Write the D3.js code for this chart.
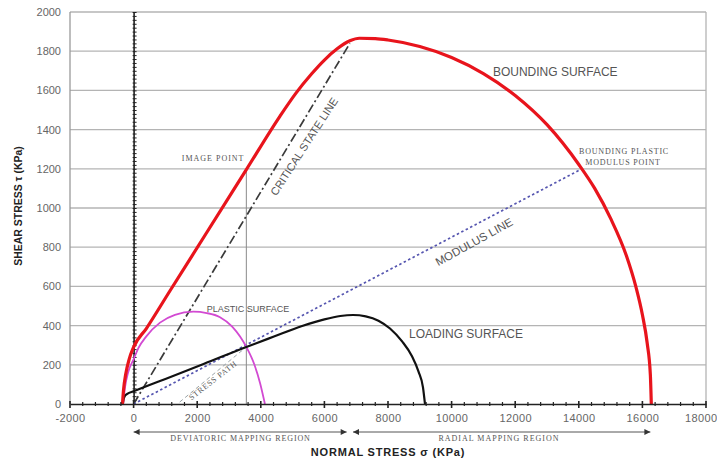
<!DOCTYPE html>
<html>
<head>
<meta charset="utf-8">
<script src="https://cdn.jsdelivr.net/npm/d3@7"></script>
<style>
  html, body { margin: 0; padding: 0; background: #fff; }
  svg { display: block; }
  .tick text { font-family: "Liberation Sans", Arial, sans-serif; fill: #666; }
  .sans-note { font-family: "Liberation Sans", Arial, sans-serif; fill: #555; }
  .serif-note { font-family: "Liberation Serif", "Times New Roman", serif; fill: #555; }
  .axis-title { font-family: "Liberation Sans", Arial, sans-serif; font-weight: bold; fill: #222; }
</style>
</head>
<body>
<svg id="chart" width="717" height="461"></svg>
<script>
// Axis ticks (kPa)
const xTicks = [-2000, 0, 2000, 4000, 6000, 8000, 10000, 12000, 14000, 16000, 18000];
const yTicks = [0, 200, 400, 600, 800, 1000, 1200, 1400, 1600, 1800, 2000];

// Surfaces and lines as (normal stress σ, shear stress τ) pairs, kPa
const boundingSurface = [
  [-350, 0], [-315, 75], [-250, 150], [-140, 228], [0, 290], [400, 385],
  [1150, 579], [2300, 875], [3545, 1196], [4600, 1468], [5100, 1585],
  [5600, 1685], [6000, 1755], [6400, 1812], [6800, 1853], [7100, 1866],
  [7600, 1864], [8000, 1857], [9000, 1824], [10000, 1768], [11000, 1686],
  [12000, 1574], [13000, 1425], [14000, 1222], [14500, 1100], [15000, 947],
  [15500, 755], [15800, 595], [16000, 455], [16150, 311], [16250, 150],
  [16280, 0]
];
const loadingSurface = [
  [-340, 0], [-315, 25], [-270, 42], [-200, 52], [0, 65], [500, 97],
  [1000, 128], [2200, 204], [3545, 291], [4393, 343], [5300, 398],
  [6000, 432], [6500, 449], [6900, 454], [7300, 447], [7700, 425],
  [8063, 385], [8450, 318], [8750, 245], [8960, 165], [9100, 85], [9163, 0]
];
const plasticSurface = [
  [-330, 0], [-270, 85], [-170, 162], [0, 228], [150, 285], [400, 345],
  [830, 415], [1300, 455], [1877, 471], [2300, 464], [2717, 443],
  [3100, 395], [3545, 291], [3800, 200], [3980, 105], [4130, 0]
];
const criticalStateLine = [[0, 0], [6800, 1840]];
const modulusLine = [[0, 0], [14040, 1195]];
const imagePointLine = [[3545, 0], [3545, 1196]];
const stressPath = [[1450, 10], [3545, 291]];
const deviatoricRegion = [0, 6700];
const radialRegion = [6900, 16250];

const svg = d3.select("#chart");
const x = d3.scaleLinear().domain([-2000, 18000]).range([70, 706]);
const y = d3.scaleLinear().domain([0, 2000]).range([404, 12]);
const plain = d => String(d);

const defs = svg.append("defs");
defs.append("marker").attr("id", "head").attr("viewBox", "0 0 10 10")
  .attr("refX", 10).attr("refY", 5).attr("markerWidth", 9).attr("markerHeight", 6)
  .attr("orient", "auto-start-reverse").attr("markerUnits", "userSpaceOnUse")
  .append("path").attr("d", "M0,0L10,5L0,10Z").attr("fill", "#333");

// horizontal gridlines
svg.append("g").selectAll("line").data(yTicks.filter(v => v > 0)).join("line")
  .attr("x1", x(-2000)).attr("x2", x(18000))
  .attr("y1", d => y(d)).attr("y2", d => y(d))
  .attr("stroke", "#b4b4b4").attr("stroke-width", 1.3);

// plot frame sides
svg.append("line").attr("x1", x(-2000)).attr("x2", x(-2000)).attr("y1", y(0)).attr("y2", y(2000))
  .attr("stroke", "#9a9a9a").attr("stroke-width", 1.3);
svg.append("line").attr("x1", x(18000)).attr("x2", x(18000)).attr("y1", y(0)).attr("y2", y(2000))
  .attr("stroke", "#b4b4b4").attr("stroke-width", 1.3);

// y tick labels
const yAxis = svg.append("g").attr("transform", `translate(${x(-2000)},0)`)
  .call(d3.axisLeft(y).tickValues(yTicks).tickSize(0).tickPadding(9).tickFormat(plain));
yAxis.select(".domain").remove();
yAxis.selectAll("text").attr("font-size", 11);

// shear axis through σ = 0 with fine ticks
const zeroAxis = svg.append("g").attr("transform", `translate(${x(0)},0)`)
  .call(d3.axisRight(y).tickValues(d3.range(0, 2001, 20)).tickSize(3).tickSizeOuter(0).tickFormat(""));
zeroAxis.select(".domain").attr("stroke", "#222").attr("stroke-width", 1.6);
zeroAxis.selectAll(".tick line").attr("stroke", "#222").attr("x1", -1);

const straight = d3.line().x(d => x(d[0])).y(d => y(d[1]));
const smooth = d3.line().x(d => x(d[0])).y(d => y(d[1])).curve(d3.curveMonotoneX);

// image point vertical
svg.append("path").attr("d", straight(imagePointLine))
  .attr("fill", "none").attr("stroke", "#8a8a8a").attr("stroke-width", 1);

// critical state line
svg.append("path").attr("d", straight(criticalStateLine))
  .attr("fill", "none").attr("stroke", "#3a3a3a").attr("stroke-width", 1.7)
  .attr("stroke-dasharray", "9,3,2,3");

// modulus line
svg.append("path").attr("d", straight(modulusLine))
  .attr("fill", "none").attr("stroke", "#5656b0").attr("stroke-width", 1.7)
  .attr("stroke-dasharray", "2.5,2.5");

// stress path
svg.append("path").attr("d", straight(stressPath))
  .attr("fill", "none").attr("stroke", "#9aa4a8").attr("stroke-width", 1)
  .attr("stroke-dasharray", "4,3");

// plastic surface
svg.append("path").attr("d", smooth(plasticSurface))
  .attr("fill", "none").attr("stroke", "#d24ad2").attr("stroke-width", 1.8);

// loading surface
svg.append("path").attr("d", smooth(loadingSurface))
  .attr("fill", "none").attr("stroke", "#111").attr("stroke-width", 2.2);

// bounding surface
svg.append("path").attr("d", smooth(boundingSurface))
  .attr("fill", "none").attr("stroke", "#e8141c").attr("stroke-width", 3.2);

// normal stress axis with major and minor ticks
const xAxis = svg.append("g").attr("transform", `translate(0,${y(0)})`)
  .call(d3.axisBottom(x).tickValues(xTicks).tickSize(0).tickPadding(10).tickFormat(plain));
xAxis.select(".domain").attr("stroke", "#222").attr("stroke-width", 1.6);
xAxis.selectAll("text").attr("font-size", 11).attr("letter-spacing", 0.4);
// keep the last label inside the page edge
xAxis.selectAll(".tick").filter(d => d === 18000).select("text")
  .attr("text-anchor", "end").attr("dx", 11);
svg.append("g").selectAll("line").data(d3.range(-2000, 18001, 400)).join("line")
  .attr("x1", d => x(d)).attr("x2", d => x(d))
  .attr("y1", d => y(0) - (d % 2000 === 0 ? 3 : 2))
  .attr("y2", d => y(0) + (d % 2000 === 0 ? 4 : 2))
  .attr("stroke", "#222").attr("stroke-width", d => d % 2000 === 0 ? 1.6 : 1.2);

// mapping region arrows below the axis
const arrowY = 432;
[deviatoricRegion, radialRegion].forEach(r => {
  svg.append("line").attr("x1", x(r[0])).attr("x2", x(r[1]))
    .attr("y1", arrowY).attr("y2", arrowY)
    .attr("stroke", "#555").attr("stroke-width", 1)
    .attr("marker-start", "url(#head)").attr("marker-end", "url(#head)");
});
svg.append("text").attr("class", "serif-note").attr("x", x(3362)).attr("y", 440.5)
  .attr("text-anchor", "middle").attr("font-size", 8).attr("letter-spacing", 0.9)
  .text("DEVIATORIC MAPPING REGION");
svg.append("text").attr("class", "serif-note").attr("x", x(11491)).attr("y", 440.5)
  .attr("text-anchor", "middle").attr("font-size", 8).attr("letter-spacing", 1)
  .text("RADIAL MAPPING REGION");

// annotations placed in stress coordinates
const notes = [
  { t: "BOUNDING SURFACE", s: 11300, tau: 1694, cls: "sans-note", fs: 12, anchor: "start", rot: 0 },
  { t: "LOADING SURFACE", s: 8661, tau: 357, cls: "sans-note", fs: 12, anchor: "start", rot: 0 },
  { t: "PLASTIC SURFACE", s: 2299, tau: 483, cls: "sans-note", fs: 9, anchor: "start", rot: 0 },
  { t: "CRITICAL STATE LINE", s: 5359, tau: 1314, cls: "sans-note", fs: 11, anchor: "middle", rot: -57 },
  { t: "MODULUS LINE", s: 10705, tau: 827, cls: "sans-note", fs: 11.5, anchor: "middle", rot: -29 },
  { t: "IMAGE POINT", s: 1513, tau: 1254, cls: "serif-note", fs: 8, anchor: "start", rot: 0, ls: 1 },
  { t: "BOUNDING PLASTIC", s: 15422, tau: 1287, cls: "serif-note", fs: 8, anchor: "middle", rot: 0, ls: 0.8 },
  { t: "MODULUS POINT", s: 15390, tau: 1231, cls: "serif-note", fs: 8, anchor: "middle", rot: 0, ls: 0.8 },
  { t: "STRESS PATH", s: 2497, tau: 120, cls: "serif-note", fs: 8, anchor: "middle", rot: -38, ls: 0.8 }
];
notes.forEach(n => {
  const px = x(n.s), py = y(n.tau);
  svg.append("text").attr("class", n.cls)
    .attr("transform", `translate(${px},${py}) rotate(${n.rot})`)
    .attr("text-anchor", n.anchor).attr("dominant-baseline", "central")
    .attr("font-size", n.fs).attr("letter-spacing", n.ls || 0)
    .text(n.t);
});

// axis titles
svg.append("text").attr("class", "axis-title")
  .attr("transform", "translate(22,206) rotate(-90)")
  .attr("text-anchor", "middle").attr("font-size", 10.5)
  .text("SHEAR STRESS τ (KPa)");
svg.append("text").attr("class", "axis-title")
  .attr("x", 388).attr("y", 456)
  .attr("text-anchor", "middle").attr("font-size", 11).attr("letter-spacing", 0.8)
  .text("NORMAL STRESS σ (KPa)");
</script>
</body>
</html>
